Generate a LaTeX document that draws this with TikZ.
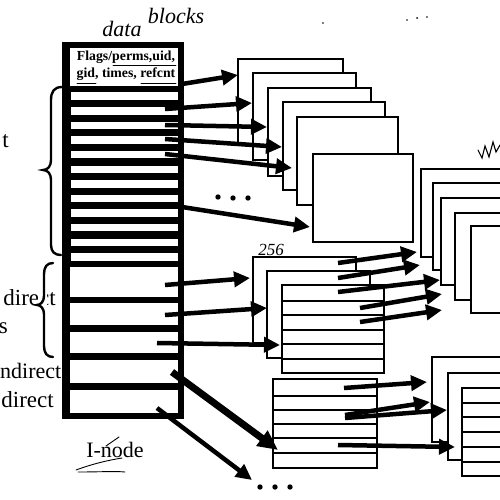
\documentclass[tikz,border=0pt]{standalone}
\usepackage{fontspec}
\setmainfont{Liberation Serif}
\usetikzlibrary{arrows.meta}
\begin{document}
\begin{tikzpicture}[x=1pt,y=-1pt,
  blk/.style={draw, line width=2.8pt, fill=white, anchor=north west, inner sep=0pt, outer sep=0pt},
  rowl/.style={line width=1.3pt},
  arr/.style={line width=4.5pt, -{Triangle[length=16pt,width=15pt]}},
  harr/.style={line width=7pt, -{Triangle[length=20pt,width=18pt]}},
  lbl/.style={font=\fontsize{23}{27}\selectfont, inner sep=0pt, anchor=base east},
  bracestyle/.style={line width=2.4pt, line cap=round},
  scribble/.style={line width=0.9pt, line cap=round},
  hand/.style={font=\fontsize{22}{24}\selectfont\itshape, inner sep=0pt}]
\clip (0,0) rectangle (500,500);
\fill[white] (0,0) rectangle (500,500);

% ---------------- I-node ----------------
\fill[black] (62,42) rectangle (184,419);
\fill[white] (70,48) rectangle (178,86);
\foreach \i in {0,...,11} {
  \fill[white] (71,{92.5+14.6*\i}) rectangle (178,{100+14.6*\i});
}
\fill[white] (70,267) rectangle (178,297);
\fill[white] (70,303) rectangle (178,325);
\fill[white] (70,332) rectangle (178,353);
\fill[white] (70,360) rectangle (178,383);
\fill[white] (70,390) rectangle (178,413);
\node[align=center, inner sep=0pt, font=\fontsize{13.8}{17}\selectfont\bfseries] (hdr) at (126,66)
  {Flags/perms,uid,\\gid, times, refcnt};
\draw[scribble, line width=0.7pt] (113,65.5) -- (176,65.5);
\draw[scribble, line width=0.7pt] (77,83.5) -- (96,83.5);
\draw[scribble, line width=0.7pt] (141,83.5) -- (176,83.5);

\node[font=\fontsize{22}{26}\selectfont, inner sep=0pt] (inode) at (115,450) {I-node};
\draw[scribble] (106,446) -- (119,437);
\draw[scribble] (76,470) .. controls (95,463) and (110,460) .. (122,458);
\draw[scribble] (78,472) .. controls (100,472) and (115,471) .. (125,472);

% ---------------- left labels and braces ----------------
\node[lbl] (lt) at (9,147) {t};
\node[lbl] (ldir) at (56,305) {direct};
\node[lbl] (ls) at (8,333) {s};
\node[lbl, font=\fontsize{22}{26}\selectfont] (lnd) at (61.5,378) {ndirect};
\node[lbl] (ld) at (54,407) {direct};
\fill[white] (38,290) rectangle (47,306);
\draw[bracestyle] (62,87) .. controls (54,87) and (51,92) .. (51,100) -- (51,160)
  .. controls (51,166) and (48,170) .. (43,170) .. controls (48,170) and (51,174) .. (51,180)
  -- (51,245) .. controls (51,252) and (55,255) .. (61,255);
\draw[bracestyle] (53,263) .. controls (47,263) and (44,267) .. (44,274) -- (44,296)
  .. controls (44,301) and (41,305) .. (37,305) .. controls (41,305) and (44,309) .. (44,314)
  -- (44,346) .. controls (44,353) and (47,357) .. (53,357);

% ---------------- handwriting ----------------
\node[hand] (hw1) at (122,29) {data};
\node[hand] (hw2) at (176,16) {blocks};
\node[hand, font=\fontsize{17}{19}\selectfont\itshape] (h256) at (271,250) {256};
\draw[scribble, line width=1.1pt] (478,150) -- (482,158) -- (485,146) -- (489,157) -- (493,142) -- (496,152) -- (500,145);
\fill (323,23) circle[radius=0.8pt];
\fill (407,20) circle[radius=0.9pt];
\fill (417,18) circle[radius=1pt];
\fill (427,17) circle[radius=0.9pt];

% ---------------- group A: direct data blocks ----------------
\node[blk, minimum width=105pt, minimum height=85pt] (a1) at (238,59) {};
\node[blk, minimum width=103pt, minimum height=87pt] (a2) at (253,73) {};
\node[blk, minimum width=103pt, minimum height=88pt] (a3) at (268,88) {};
\node[blk, minimum width=102pt, minimum height=88pt] (a4) at (283,102) {};
\node[blk, minimum width=101pt, minimum height=88pt] (a5) at (297,117) {};
\node[blk, minimum width=100pt, minimum height=88pt] (a6) at (313,154) {};
\fill (218,197) circle[radius=2.7pt];
\fill (233,198) circle[radius=2.7pt];
\fill (248,198) circle[radius=2.7pt];

% ---------------- group C: data blocks of indirect ----------------
\node[blk, minimum width=100pt, minimum height=88pt] (c1) at (421,169) {};
\node[blk, minimum width=100pt, minimum height=87pt] (c2) at (433,183) {};
\node[blk, minimum width=100pt, minimum height=87pt] (c3) at (441,198) {};
\node[blk, minimum width=100pt, minimum height=87pt] (c4) at (455,213) {};
\node[blk, minimum width=100pt, minimum height=87pt] (c5) at (471,226) {};

% ---------------- group B: indirect blocks ----------------
\node[blk, minimum width=103pt, minimum height=86pt] (b1) at (253,257) {};
\node[blk, minimum width=103pt, minimum height=87pt] (b2) at (267,271) {};
\node[blk, minimum width=102pt, minimum height=88pt] (b3) at (282,285) {};
\foreach \y in {301,315,330,344,359} \draw[rowl] (282,\y) -- (384,\y);

% ---------------- group D: double indirect ----------------
\node[blk, minimum width=104pt, minimum height=89pt] (d1) at (273,379) {};
\foreach \y in {396,410,424,438,453} \draw[rowl] (273,\y) -- (377,\y);

% ---------------- group E ----------------
\node[blk, minimum width=100pt, minimum height=85pt] (e1) at (432,357) {};
\node[blk, minimum width=100pt, minimum height=87pt] (e2) at (448,373) {};
\node[blk, minimum width=100pt, minimum height=88pt] (e3) at (462,388) {};
\foreach \y in {403,417,432,447,462} \draw[rowl] (462,\y) -- (500,\y);

\fill (260,487) circle[radius=2.7pt];
\fill (275,487) circle[radius=2.7pt];
\fill (290,487) circle[radius=2.7pt];

% ---------------- connector end points ----------------
\coordinate (sA1) at (182,84);  \coordinate (tA1) at (238,75);
\coordinate (sA2) at (165,109); \coordinate (tA2) at (252,103);
\coordinate (sA3) at (165,125); \coordinate (tA3) at (267,127);
\coordinate (sA4) at (165,139); \coordinate (tA4) at (282,147);
\coordinate (sA5) at (165,154); \coordinate (tA5) at (292,168);
\coordinate (sA6) at (182,207); \coordinate (tA6) at (310,227);
\coordinate (sB1) at (165,285); \coordinate (tB1) at (250,278);
\coordinate (sB2) at (165,315); \coordinate (tB2) at (267,308);
\coordinate (sB3) at (157,343); \coordinate (tB3) at (280,345);
\coordinate (sC1) at (338,263); \coordinate (tC1) at (417,252);
\coordinate (sC2) at (338,278); \coordinate (tC2) at (420,265);
\coordinate (sC3) at (338,292); \coordinate (tC3) at (440,280);
\coordinate (sC4) at (360,308); \coordinate (tC4) at (442,294);
\coordinate (sC5) at (360,322); \coordinate (tC5) at (442,310);
\coordinate (sD)  at (172,372); \coordinate (tD)  at (278,450);
\coordinate (sX)  at (157,408); \coordinate (tX)  at (252,480);
\coordinate (sE1) at (344,388); \coordinate (tE1) at (427,382);
\coordinate (sE2) at (345,415); \coordinate (tE2) at (430,402);
\coordinate (sE3) at (345,418); \coordinate (tE3) at (447,410);
\coordinate (sE4) at (338,445); \coordinate (tE4) at (455,447);

\foreach \n in {A1,A2,A3,A4,A5,A6,B1,B2,B3,C1,C2,C3,C4,C5,X,E1,E2,E3,E4}
  \draw[arr] (s\n) -- (t\n);
\draw[harr] (sD) -- (tD);
\end{tikzpicture}
\end{document}
